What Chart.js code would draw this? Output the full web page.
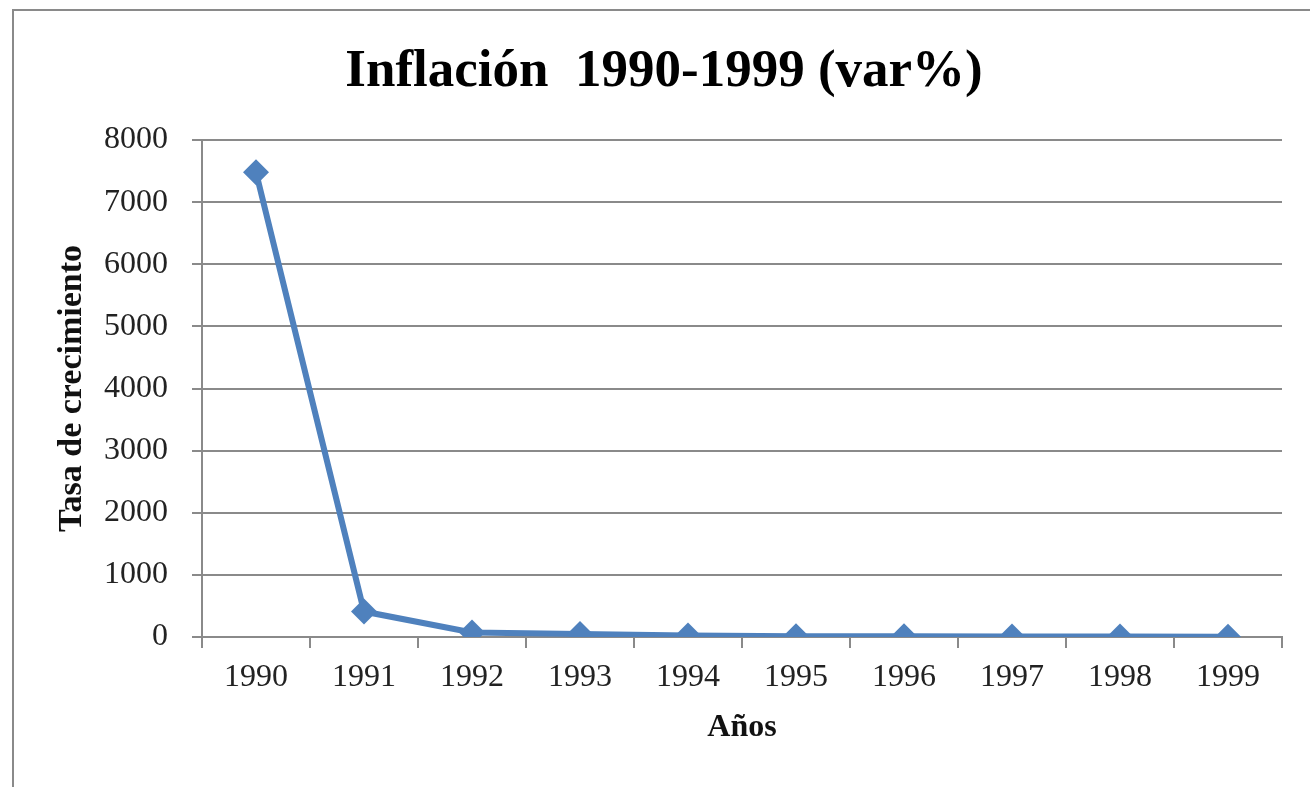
<!DOCTYPE html>
<html>
<head>
<meta charset="utf-8">
<script src="https://cdn.jsdelivr.net/npm/chart.js@4"></script>
<style>
  html, body { margin: 0; padding: 0; background: #fff; }
  #wrap { width: 1310px; height: 787px; }
</style>
</head>
<body>
<div id="wrap"><canvas id="chart"></canvas></div>
<script>
'use strict';

/* ── Data ───────────────────────────────────────────────── */

const YEARS = ['1990', '1991', '1992', '1993', '1994', '1995', '1996', '1997', '1998', '1999'];
const INFLATION = [7481.7, 409.5, 73.5, 48.6, 23.7, 11.1, 11.5, 8.5, 7.3, 3.5];

const LINE_COLOR = '#4F81BD';
const GRID_COLOR = '#8a8a8a';
const SERIF = '"Liberation Serif", "Times New Roman", serif';

/* Outer frame of the chart object (cropped at right/bottom) */
const framePlugin = {
  id: 'frame',
  beforeDraw(chart) {
    const { ctx, width, height } = chart;
    ctx.save();
    ctx.fillStyle = '#fff';
    ctx.fillRect(0, 0, width, height);
    ctx.strokeStyle = GRID_COLOR;
    ctx.lineWidth = 2;
    ctx.beginPath();
    ctx.moveTo(13, height);
    ctx.lineTo(13, 10);
    ctx.lineTo(width, 10);
    ctx.stroke();
    ctx.restore();
  },
};

new Chart(document.getElementById('chart'), {
  type: 'line',
  data: {
    labels: YEARS,
    datasets: [
      {
        label: 'Inflación',
        data: INFLATION,
        borderColor: LINE_COLOR,
        backgroundColor: LINE_COLOR,
        borderWidth: 6,
        pointStyle: 'rectRot',
        pointRadius: 13,
        pointBorderWidth: 0,
        tension: 0,
        fill: false,
      },
    ],
  },
  options: {
    responsive: true,
    maintainAspectRatio: false,
    animation: false,
    layout: { padding: { left: 46, right: 28, top: 0, bottom: 0 } },
    plugins: {
      legend: { display: false },
      tooltip: { enabled: false },
      title: {
        display: true,
        text: 'Inflación  1990-1999 (var%)',
        color: '#000',
        font: { family: SERIF, size: 53, weight: 'bold', lineHeight: 1 },
        padding: { top: 46, bottom: 41 },
      },
    },
    scales: {
      x: {
        offset: true,
        afterFit: s => { s.height = 150; },
        grid: {
          offset: true,
          drawOnChartArea: false,
          drawTicks: true,
          tickLength: 11,
          color: GRID_COLOR,
          lineWidth: 2,
        },
        border: { display: true, color: GRID_COLOR, width: 2 },
        ticks: {
          color: '#222',
          padding: 10,
          maxRotation: 0,
          font: { family: SERIF, size: 32 },
        },
        title: {
          display: true,
          text: 'Años',
          color: '#111',
          font: { family: SERIF, size: 32, weight: 'bold' },
          padding: { top: 0, bottom: 40 },
        },
      },
      y: {
        min: 0,
        max: 8000,
        afterFit: s => { s.width = 156; },
        grid: {
          color: GRID_COLOR,
          lineWidth: 2,
          tickLength: 10,
        },
        border: { display: true, color: GRID_COLOR, width: 2 },
        ticks: {
          stepSize: 1000,
          color: '#222',
          padding: 24,
          font: { family: SERIF, size: 32 },
          callback: v => String(v),
        },
        title: {
          display: true,
          text: 'Tasa de crecimiento',
          color: '#111',
          font: { family: SERIF, size: 34, weight: 'bold' },
          padding: { top: 6, bottom: 0 },
        },
      },
    },
  },
  plugins: [framePlugin],
});
</script>
</body>
</html>
